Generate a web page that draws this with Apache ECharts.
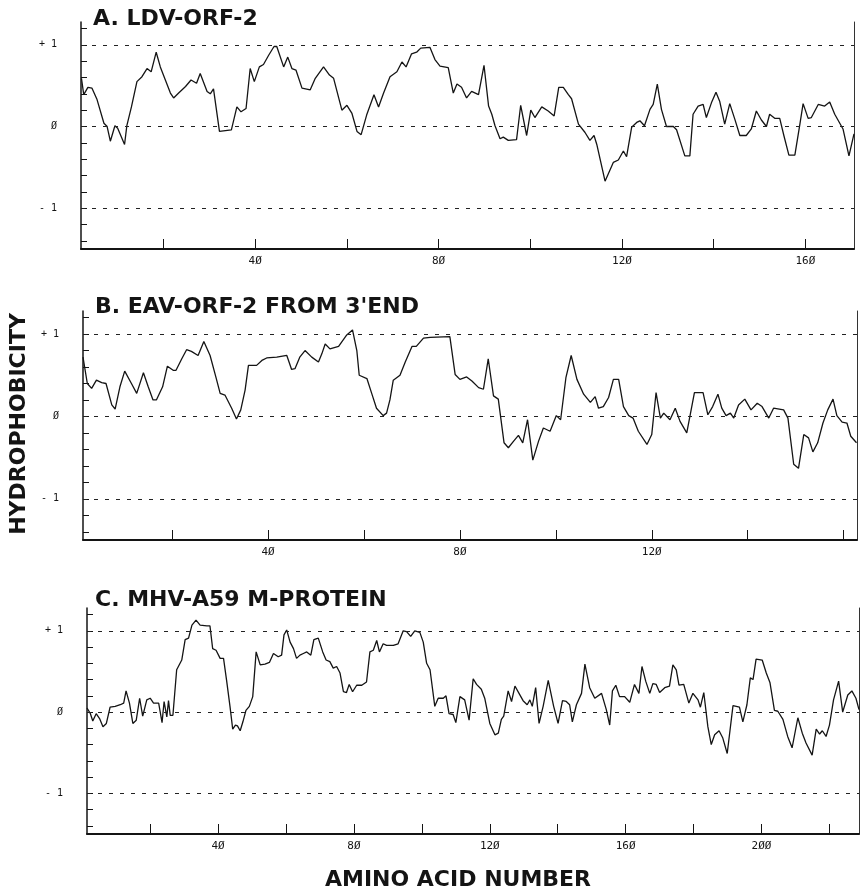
<!DOCTYPE html>
<html>
<head>
<meta charset="utf-8">
<title>Hydrophobicity profiles</title>
<script src="https://cdn.jsdelivr.net/npm/echarts@6/dist/echarts.min.js"></script>
<style>
  html, body { margin: 0; background: #fff; }
  #chart { width: 860px; height: 896px; }
</style>
</head>
<body>
<div id="chart"></div>
<script>
// panel titles
var panelTitles = ['A. LDV-ORF-2', "B. EAV-ORF-2 FROM 3'END", 'C. MHV-A59 M-PROTEIN'];

// A. LDV-ORF-2 : residue number / hydrophobicity
var resA = [2.1,2.6,3.5,4.4,5.5,7.0,7.7,8.4,9.4,10.0,11.5,12.0,13.0,14.2,15.3,16.4,17.3,18.4,19.3,20.4,
  21.5,22.2,23.3,24.8,26.0,27.2,28.0,29.5,30.2,30.9,32.2,33.5,34.8,36.0,36.9,38.0,38.9,39.8,40.9,41.8,
  42.9,44.1,44.7,46.2,47.1,48.0,48.9,50.2,52.0,53.1,54.9,56.2,57.1,58.9,60.0,61.1,62.2,63.1,64.3,65.9,
  66.9,68.0,69.4,70.9,72.0,72.9,74.1,75.2,76.1,78.1,
  79.2,80.3,82.1,83.2,84.0,85.0,86.1,87.2,88.7,89.0,89.9,90.9,91.6,92.3,93.4,94.1,95.2,97.0,97.9,99.2,
  100.1,101.0,102.5,103.9,105.2,106.2,107.2,108.3,109.0,110.5,111.9,113.0,113.9,114.5,116.3,118.1,119.2,120.3,121.0,122.1,
  123.2,123.9,124.9,126.1,126.8,127.7,128.6,129.7,131.2,131.9,133.7,134.8,135.5,136.6,137.7,138.4,139.5,140.5,141.3,142.4,
  143.5,144.6,145.7,147.1,148.2,149.3,150.4,151.5,152.2,153.3,154.4,155.3,156.4,157.7,158.8,159.5,160.6,161.3,162.8,164.2,
  165.3,166.4,168.2,169.5,170.6];
var hydA = [0.59,0.39,0.48,0.47,0.33,0.04,0.00,-0.18,0.01,-0.02,-0.22,0.01,0.24,0.55,0.61,0.71,0.67,0.91,0.73,0.57,
  0.41,0.35,0.41,0.49,0.57,0.53,0.65,0.43,0.40,0.46,-0.06,-0.05,-0.04,0.24,0.18,0.22,0.71,0.55,0.73,0.76,
  0.87,0.98,0.98,0.73,0.85,0.71,0.69,0.47,0.45,0.59,0.73,0.63,0.59,0.20,0.26,0.16,-0.06,-0.10,0.14,0.39,
  0.24,0.41,0.61,0.67,0.79,0.73,0.89,0.91,0.96,0.97,
  0.82,0.74,0.72,0.41,0.52,0.48,0.35,0.43,0.39,0.39,0.75,0.25,0.15,0.01,-0.15,-0.13,-0.17,-0.16,0.26,-0.11,
  0.20,0.11,0.24,0.19,0.13,0.48,0.48,0.39,0.34,0.03,-0.07,-0.17,-0.11,-0.22,-0.67,-0.44,-0.41,-0.30,-0.37,-0.01,
  0.05,0.07,0.01,0.21,0.27,0.52,0.21,0.00,0.00,-0.04,-0.36,-0.36,0.15,0.25,0.27,0.11,0.29,0.42,0.31,0.03,
  0.28,0.09,-0.11,-0.11,-0.03,0.19,0.08,0.00,0.15,0.10,0.10,-0.11,-0.35,-0.35,0.03,0.28,0.10,0.11,0.27,0.25,
  0.30,0.15,-0.03,-0.36,-0.09];

// B. EAV-ORF-2 from 3' end
var resB = [1.4,2.3,3.2,4.2,5.3,6.2,7.4,8.1,9.1,10.1,11.5,12.6,12.9,14.0,15.0,16.0,16.7,18.0,19.0,20.2,
  20.8,22.0,23.0,24.0,25.4,26.6,27.9,29.1,30.0,31.0,32.4,33.4,34.3,35.2,35.9,37.6,38.7,39.7,41.8,43.9,
  44.9,45.6,46.6,47.7,49.1,50.5,51.2,51.9,52.9,54.7,56.4,57.6,58.5,59.0,60.6,61.6,62.6,64.0,64.7,65.4,
  66.1,67.5,68.6,70.0,70.9,72.4,73.8,
  77.9,79.0,80.0,81.4,82.5,83.9,84.9,85.9,87.0,88.0,89.2,90.1,91.2,92.2,93.1,94.1,95.2,96.4,97.4,98.8,
  100.1,101.0,102.1,103.2,104.4,105.8,107.2,108.2,108.9,109.9,111.0,112.0,113.1,114.1,115.2,116.1,117.2,119.0,120.0,120.9,
  121.8,122.5,123.8,124.9,125.9,127.3,128.9,130.7,131.7,132.7,133.8,134.6,135.5,136.4,137.1,138.1,139.4,140.7,142.0,143.0,
  144.4,145.4,147.5,148.4,149.6,150.6,151.7,152.7,153.6,154.6,155.7,156.7,157.8,158.6,159.7,160.7,161.5,162.7];
var hydB = [0.72,0.40,0.34,0.44,0.41,0.40,0.14,0.09,0.36,0.55,0.40,0.28,0.27,0.53,0.36,0.20,0.20,0.36,0.61,0.56,
  0.56,0.70,0.81,0.79,0.74,0.91,0.74,0.48,0.28,0.26,0.10,-0.03,0.08,0.32,0.62,0.62,0.68,0.71,0.72,0.74,
  0.57,0.58,0.72,0.80,0.72,0.66,0.76,0.88,0.82,0.85,0.99,1.05,0.80,0.50,0.46,0.28,0.10,0.01,0.04,0.20,
  0.44,0.50,0.66,0.85,0.85,0.95,0.96,
  0.97,0.51,0.45,0.48,0.43,0.35,0.33,0.70,0.25,0.21,-0.32,-0.38,-0.30,-0.23,-0.32,-0.04,-0.53,-0.30,-0.14,-0.18,
  0.01,-0.04,0.47,0.74,0.45,0.27,0.17,0.24,0.10,0.12,0.23,0.45,0.45,0.12,0.01,-0.02,-0.18,-0.34,-0.22,0.29,
  -0.02,0.04,-0.04,0.10,-0.06,-0.20,0.29,0.29,0.02,0.12,0.27,0.10,0.01,0.04,-0.02,0.14,0.21,0.08,0.16,0.12,
  -0.02,0.10,0.08,-0.02,-0.58,-0.63,-0.22,-0.26,-0.43,-0.32,-0.08,0.08,0.21,0.01,-0.07,-0.08,-0.24,-0.32];

// C. MHV-A59 M-protein
var resC = [1.4,2.4,3.1,4.1,5.1,6.1,7.1,8.2,9.7,11.2,12.2,12.9,13.9,14.9,15.9,16.9,17.8,19.0,20.0,21.0,
  22.5,22.9,23.5,24.1,24.9,25.4,25.9,26.7,27.8,29.3,30.3,31.3,32.3,33.5,34.7,36.7,37.6,38.4,39.4,40.6,
  41.6,42.5,43.5,44.3,45.1,45.7,46.5,47.3,48.2,49.2,50.2,51.2,52.4,53.8,55.1,56.3,57.7,58.7,59.4,60.2,
  61.2,62.2,63.1,64.1,65.1,66.1,67.3,68.2,69.5,70.8,71.8,72.9,73.9,74.9,75.9,76.9,77.8,78.6,79.6,80.8,
  82.3,83.7,84.7,85.7,86.7,87.5,88.6,89.6,91.6,93.0,94.5,95.5,96.7,97.9,99.4,100.4,101.4,102.4,
  103.8,104.8,106.3,107.1,108.0,109.2,110.0,111.2,112.6,113.9,115.1,116.1,117.5,118.5,120.0,121.5,122.5,123.4,124.1,125.4,
  126.4,127.4,128.6,129.8,131.0,131.8,132.5,133.5,134.5,135.7,137.2,138.8,140.1,141.4,142.5,143.5,144.3,145.5,147.0,148.0,
  149.4,150.9,152.9,154.3,155.3,156.1,157.1,158.2,159.7,161.2,162.6,163.9,164.8,165.9,167.1,168.0,169.0,170.0,171.5,172.9,
  173.9,174.9,175.7,177.1,178.6,179.8,181.3,182.0,183.0,184.2,185.2,186.2,187.5,188.6,189.9,191.6,193.5,194.5,195.7,196.7,
  197.5,198.4,200.2,201.4,202.5,203.8,204.8,206.3,207.7,209.0,210.7,212.0,213.1,214.9,216.1,217.1,217.9,219.0,220.0,221.2,
  222.7,223.9,225.4,226.6,227.8,228.7];
var hydC = [0.05,-0.02,-0.11,-0.02,-0.08,-0.18,-0.14,0.06,0.07,0.09,0.11,0.26,0.11,-0.14,-0.10,0.17,-0.05,0.15,0.17,0.11,
  0.11,0.10,-0.13,0.13,-0.06,0.14,-0.04,-0.04,0.52,0.64,0.89,0.91,1.07,1.13,1.07,1.06,1.06,0.78,0.76,0.66,
  0.66,0.39,0.07,-0.21,-0.16,-0.17,-0.23,-0.12,0.02,0.07,0.19,0.74,0.58,0.59,0.61,0.72,0.68,0.70,0.95,1.01,
  0.86,0.78,0.66,0.70,0.72,0.74,0.70,0.89,0.91,0.74,0.64,0.62,0.54,0.56,0.48,0.25,0.24,0.34,0.25,0.33,
  0.33,0.37,0.74,0.76,0.88,0.74,0.84,0.82,0.82,0.84,1.00,0.99,0.93,1.00,0.98,0.86,0.60,0.52,
  0.07,0.17,0.17,0.20,-0.02,-0.03,-0.13,0.19,0.15,-0.10,0.41,0.34,0.28,0.17,-0.14,-0.28,-0.26,-0.09,-0.05,0.26,
  0.13,0.32,0.23,0.14,0.09,0.15,0.07,0.30,-0.14,0.07,0.39,0.07,-0.14,0.14,0.13,0.09,-0.12,0.09,0.23,0.59,
  0.30,0.17,0.23,0.03,-0.16,0.26,0.33,0.19,0.19,0.12,0.34,0.23,0.56,0.38,0.23,0.35,0.34,0.24,0.30,0.32,
  0.58,0.52,0.33,0.34,0.11,0.23,0.15,0.06,0.24,-0.18,-0.40,-0.28,-0.23,-0.32,-0.51,0.08,0.06,-0.12,0.09,0.42,
  0.40,0.65,0.64,0.48,0.36,0.02,0.01,-0.09,-0.30,-0.44,-0.07,-0.26,-0.38,-0.53,-0.21,-0.27,-0.23,-0.30,-0.16,0.15,
  0.38,0.00,0.21,0.26,0.17,0.03];

// axes
var xRanges = [[2, 170.6], [1.4, 162.8], [1.4, 228.7]];
var xTicks = [
  [20, 40, 60, 80, 100, 120, 140, 160],
  [20, 40, 60, 80, 100, 120, 140, 160],
  [20, 40, 60, 80, 100, 120, 140, 160, 180, 200, 220]
];
var xLabels = [[40, 80, 120, 160], [40, 80, 120], [40, 80, 120, 160, 200]];
var yRange = [-1.5, 1.28];
var yTicks = [-1.4, -1.2, -1, -0.8, -0.6, -0.4, -0.2, 0, 0.2, 0.4, 0.6, 0.8, 1, 1.2];
var yLabels = [-1, 0, 1];
var refLines = [-1, 0, 1];

var panelRes = [resA, resB, resC];
var panelHyd = [hydA, hydB, hydC];

// layout of the three panels
var grids = [
  { left: 81, top: 22, width: 773, height: 227 },
  { left: 83, top: 311, width: 774, height: 229 },
  { left: 87, top: 608, width: 772, height: 226 }
];
var titlePos = [[93, 8], [95, 296], [95, 589]];

var ink = '#141414';
var tickFont = 'DejaVu Sans Mono';

function zeroGlyph(v) {
  return String(v).replace(/0/g, '\u00D8');
}

var option = {
  animation: false,
  backgroundColor: '#fff',
  title: [],
  grid: [],
  xAxis: [],
  yAxis: [],
  series: [],
  graphic: [
    {
      type: 'text', x: 19, y: 424, rotation: Math.PI / 2,
      style: { text: 'HYDROPHOBICITY', fill: ink, font: 'bold 22px "DejaVu Sans"',
        textAlign: 'center', textVerticalAlign: 'middle' }
    },
    {
      type: 'text', x: 458, y: 880,
      style: { text: 'AMINO ACID NUMBER', fill: ink, font: 'bold 22px "DejaVu Sans"',
        textAlign: 'center', textVerticalAlign: 'middle' }
    }
  ]
};

for (var i = 0; i < 3; i++) {
  var g = grids[i];
  option.grid.push({ left: g.left, top: g.top, width: g.width, height: g.height,
    containLabel: false, outerBoundsMode: 'none' });

  option.title.push({
    text: panelTitles[i], left: titlePos[i][0], top: titlePos[i][1], padding: 0,
    textStyle: { fontFamily: 'DejaVu Sans', fontWeight: 'bold', fontSize: 22, color: ink }
  });

  option.xAxis.push({
    type: 'value', gridIndex: i, min: xRanges[i][0], max: xRanges[i][1],
    axisLine: { show: true, onZero: false, lineStyle: { color: ink, width: 2 } },
    axisTick: { show: true, inside: true, length: 10, customValues: xTicks[i],
      lineStyle: { color: ink, width: 1 } },
    axisLabel: { show: true, customValues: xLabels[i], margin: 7, color: ink,
      fontFamily: tickFont, fontSize: 11, formatter: zeroGlyph },
    splitLine: { show: false }
  });

  // left axis with ticks and labels
  option.yAxis.push({
    type: 'value', gridIndex: i, min: yRange[0], max: yRange[1], position: 'left',
    axisLine: { show: true, lineStyle: { color: ink, width: 1.5 } },
    axisTick: { show: true, inside: true, length: 6, customValues: yTicks,
      lineStyle: { color: ink, width: 1 } },
    axisLabel: { show: true, customValues: yLabels, margin: 24, color: ink,
      fontFamily: tickFont, fontSize: 10,
      formatter: function (v) {
        if (v > 0) return '+ 1';
        if (v < 0) return '- 1';
        return '\u00D8';
      } },
    splitLine: { show: false }
  });
  // right frame line
  option.yAxis.push({
    type: 'value', gridIndex: i, min: yRange[0], max: yRange[1], position: 'right',
    axisLine: { show: true, lineStyle: { color: '#333', width: 1 } },
    axisTick: { show: false }, axisLabel: { show: false }, splitLine: { show: false }
  });

  var pts = [];
  for (var k = 0; k < panelRes[i].length; k++) {
    pts.push([panelRes[i][k], panelHyd[i][k]]);
  }

  option.series.push({
    type: 'line', xAxisIndex: i, yAxisIndex: i * 2, data: pts,
    showSymbol: false, symbol: 'none', silent: true, z: 3,
    lineStyle: { color: ink, width: 1.3 },
    markLine: {
      silent: true, symbol: ['none', 'none'], label: { show: false },
      lineStyle: { color: '#222', width: 1.2, type: [4, 7] },
      data: refLines.map(function (v) { return { yAxis: v }; })
    }
  });
}

var myChart = echarts.init(document.getElementById('chart'), null, { renderer: 'canvas' });
myChart.setOption(option);
</script>
</body>
</html>
